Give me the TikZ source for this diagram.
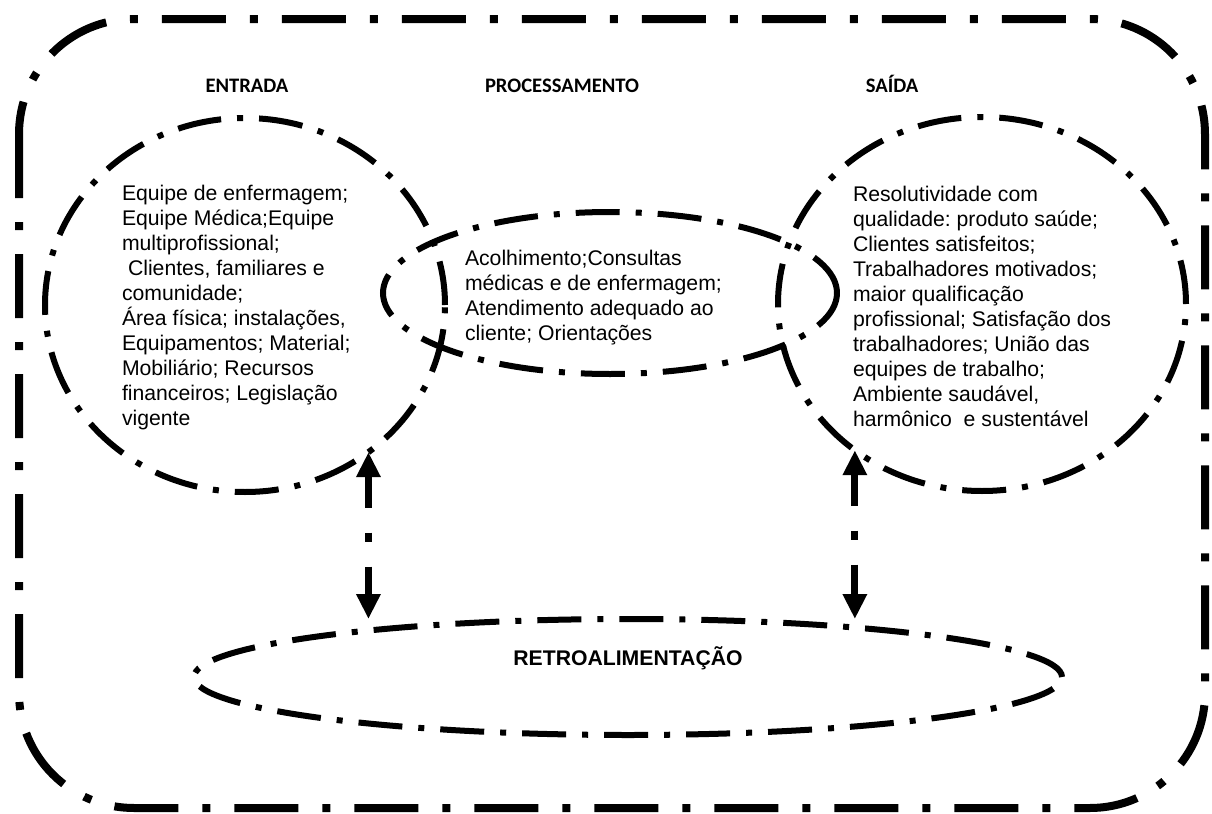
\documentclass[tikz,border=0pt]{standalone}
\usepackage{fontspec}
\setmainfont{Liberation Sans}
\newfontfamily\calibri{Carlito}
\usetikzlibrary{calc,shapes.geometric,arrows.meta}
\frenchspacing

\begin{document}
\begin{tikzpicture}[x=0.5pt, y=-0.5pt, inner sep=0pt, outer sep=0pt,
    every node/.style={font=\fontsize{10.6pt}{12.5pt}\selectfont},
    moldura/.style={line width=4pt, rounded corners=57.5pt, dash pattern=on 32pt off 12pt on 4pt off 12pt},
    elipse/.style={ellipse, draw, line width=3pt, dash pattern=on 22pt off 8pt on 3pt off 8pt},
    titulo/.style={anchor=base, font=\calibri\bfseries\fontsize{10.3pt}{12pt}\selectfont},
    texto/.style={anchor=north west, align=left},
    seta/.style={line width=3.5pt, {Triangle[width=11.5pt,length=12.5pt]}-{Triangle[width=11.5pt,length=12.5pt]}, dash pattern=on 16pt off 12.5pt on 4.5pt off 12.5pt}]
    \useasboundingbox (0,0) rectangle (1212,814);

    % moldura
    \draw[moldura] (19,19) rectangle (1205,808);

    % elipses
    \node[elipse, minimum width=200pt, minimum height=187pt] (entrada) at (245,305) {};
    \node[elipse, minimum width=227pt, minimum height=81pt] (processamento) at (610,293) {};
    \node[elipse, minimum width=204pt, minimum height=187pt] (saida) at (982,304) {};
    \node[elipse, minimum width=434pt, minimum height=58pt] (retro) at (628,677) {};

    % titulos
    \node[titulo] (entrada_tit) at (247,92) {ENTRADA};
    \node[titulo] (proc_tit) at (562,92) {PROCESSAMENTO};
    \node[titulo] (saida_tit) at (892,92) {SAÍDA};

    % entrada
    \node[texto] (entrada_txt) at ($(entrada.center) + (-123,-120)$)
    {Equipe de enfermagem;\\ Equipe Médica;Equipe\\ multiprofissional;\\
     \hspace*{3pt}Clientes, familiares e\\ comunidade;\\ Área física; instalações,\\
     Equipamentos; Material;\\ Mobiliário; Recursos\\ financeiros; Legislação\\ vigente};

    % processamento
    \node[texto] (proc_txt) at ($(processamento.center) + (-145,-43)$)
    {Acolhimento;Consultas\\ médicas e de enfermagem;\\ Atendimento adequado ao\\ cliente; Orientações};

    % saida
    \node[texto] (saida_txt) at ($(saida.center) + (-129,-118)$)
    {Resolutividade com\\ qualidade: produto saúde;\\ Clientes satisfeitos;\\ Trabalhadores motivados;\\
     maior qualificação\\ profissional; Satisfação dos\\ trabalhadores; União das\\
     equipes de trabalho;\\ Ambiente saudável,\\ harmônico \ e sustentável};

    % retroalimentacao
    \node[anchor=base, font=\bfseries\fontsize{10.6pt}{12.5pt}\selectfont] (retro_txt)
    at ($(retro.center) + (0,-12)$) {RETROALIMENTAÇÃO};

    % setas
    \draw[seta] (entrada.-50) -- (entrada.-50 |- retro.north);
    \draw[seta] (saida.-131) -- (saida.-131 |- retro.north);
\end{tikzpicture}
\end{document}
